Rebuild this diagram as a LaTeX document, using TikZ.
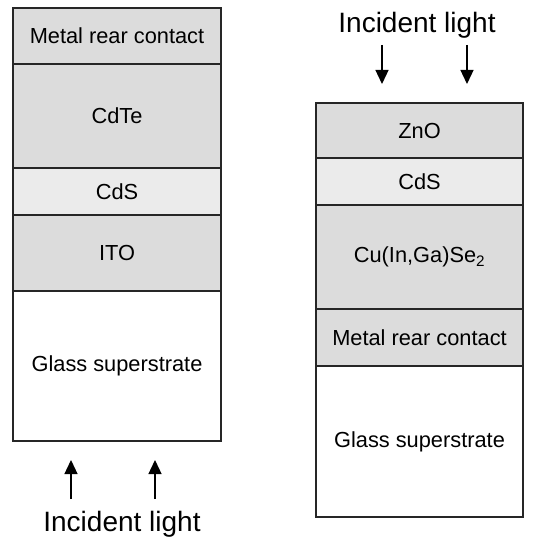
\documentclass[tikz,border=0pt]{standalone}
\usepackage{fontspec}
\setmainfont{Liberation Sans}
\usetikzlibrary{arrows.meta}
\definecolor{layerdark}{HTML}{DCDCDC}
\definecolor{layerlight}{HTML}{EBEBEB}
\begin{document}
\begin{tikzpicture}[x=1bp,y=-1bp,
  layer/.style={draw=black!85, line width=1.6bp, inner sep=0pt, outer sep=0pt,
    font=\fontsize{21.8bp}{26bp}\selectfont, align=center},
  lw/.style={layer, minimum width=208bp},
  rw/.style={layer, minimum width=207bp},
  lbl/.style={font=\fontsize{28bp}{33bp}\selectfont, anchor=base, inner sep=0pt},
  ray/.style={line width=1.3bp, -{Triangle[width=13bp,length=14bp]}}]
\useasboundingbox (0,0) rectangle (537,548);
% left stack
\node[lw, fill=layerdark, minimum height=56bp] (lmetal) at (117,36) {Metal rear contact};
\node[lw, fill=layerdark, minimum height=104bp] (lcdte) at (117,116) {CdTe};
\node[lw, fill=layerlight, minimum height=47bp] (lcds) at (117,191.5) {CdS};
\node[lw, fill=layerdark, minimum height=76bp] (lito) at (117,253) {ITO};
\node[lw, fill=white, minimum height=150bp] (lglass) at (117,366) {Glass superstrate};
% right stack
\node[rw, fill=layerdark, minimum height=55bp] (rzno) at (419.5,130.5) {ZnO};
\node[rw, fill=layerlight, minimum height=47bp] (rcds) at (419.5,181.5) {CdS};
\node[rw, fill=layerdark, minimum height=104bp] (rcigs) at (419.5,257) {Cu(In,Ga)Se\textsubscript{2}};
\node[rw, fill=layerdark, minimum height=57bp] (rmetal) at (419.5,337.5) {Metal rear contact};
\node[rw, fill=white, minimum height=151bp] (rglass) at (419.5,441.5) {Glass superstrate};
% labels
\node[lbl] (llight) at (122,531) {Incident light};
\node[lbl] (rlight) at (417,33) {Incident light};
% arrows
\coordinate (la1s) at (71,499); \coordinate (la1e) at (71,460);
\coordinate (la2s) at (155,499); \coordinate (la2e) at (155,460);
\coordinate (ra1s) at (382,45); \coordinate (ra1e) at (382,84);
\coordinate (ra2s) at (467,45); \coordinate (ra2e) at (467,84);
\draw[ray] (la1s) -- (la1e);
\draw[ray] (la2s) -- (la2e);
\draw[ray] (ra1s) -- (ra1e);
\draw[ray] (ra2s) -- (ra2e);
\end{tikzpicture}
\end{document}
